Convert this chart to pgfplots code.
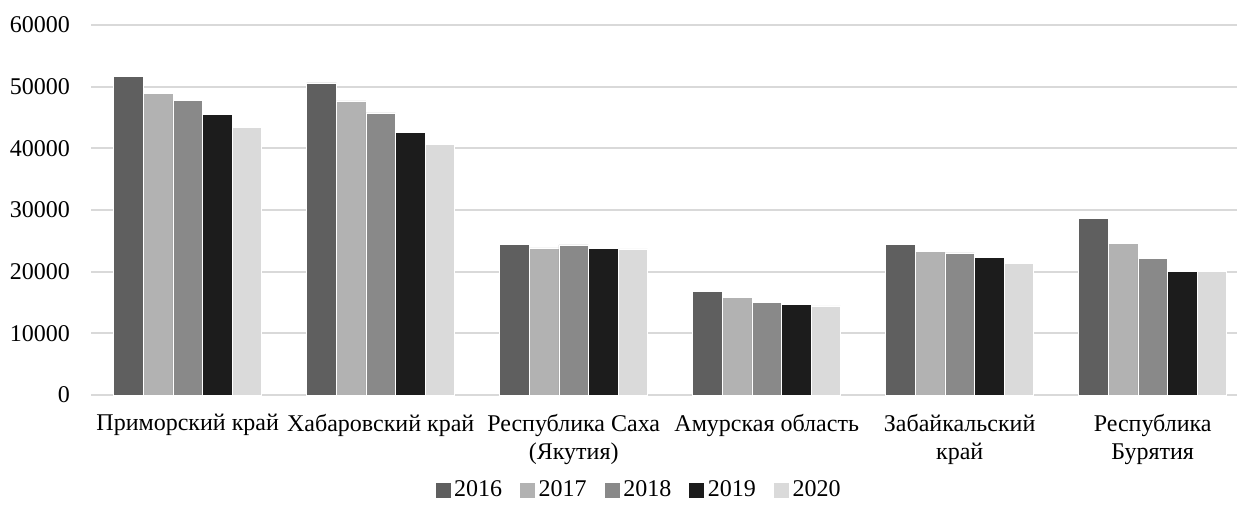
\documentclass[border=0pt]{standalone}
\usepackage{fontspec}
\setmainfont{Liberation Serif}
\usepackage{pgfplots}
\usepackage{pgfplotstable}
\pgfplotsset{compat=1.18}

\definecolor{c16}{HTML}{5F5F5F}
\definecolor{c17}{HTML}{B2B2B2}
\definecolor{c18}{HTML}{898989}
\definecolor{c19}{HTML}{1C1C1C}
\definecolor{c20}{HTML}{DADADA}
\definecolor{gridc}{HTML}{D9D9D9}

% values per region, years 2016-2020
\pgfplotstableread{
x  y16   y17   y18   y19   y20
0  51650 48950 47800 45450 43450
1  50600 47700 45750 42600 40600
2  24400 23850 24350 23750 23700
3  16750 15800 15050 14700 14450
4  24400 23350 23050 22300 21400
5  28670 24550 22150 20050 20000
}\datatable

\pgfplotsset{
  yr/.style={fill=#1, draw=white, line width=0.3pt,
    legend image code/.code={\fill[#1] (0pt,-3.5pt) rectangle (7pt,3.5pt);}},
}

\begin{document}
\begin{tikzpicture}
\useasboundingbox (-45.6pt,-58pt) rectangle (572.9pt,197.5pt);
\begin{axis}[
  at={(0,0)}, anchor=south west,
  scale only axis,
  width=572.9pt, height=185pt,
  ybar=0pt,
  bar width=0.1534,
  xmin=-0.5, xmax=5.437,
  ymin=0, ymax=60000,
  ytick={0,10000,...,60000},
  scaled y ticks=false,
  xtick={0,...,5},
  xticklabels={Приморский край, Хабаровский край, {Республика Саха\\(Якутия)}, Амурская область, {Забайкальский\\край}, {Республика\\Бурятия}},
  font={\fontsize{12}{14}\selectfont},
  /pgf/number format/assume math mode=true,
  /pgf/number format/1000 sep={},
  axis line style={draw=none},
  major tick length=0pt,
  ymajorgrids,
  major grid style={gridc, line width=1pt},
  xticklabel style={align=center, inner sep=0pt, yshift=-9.5pt, anchor=north},
  yticklabel style={inner sep=0pt, xshift=-10.5pt, anchor=east},
  legend columns=5,
  legend style={at={(0.479,-0.257)}, anchor=center, draw=none, fill=none,
    font={\fontsize{12}{14}\selectfont},
    /tikz/every even column/.append style={column sep=7pt}},
  legend cell align=left,
]
\addplot[yr=c16] table[x=x, y=y16] {\datatable};
\addplot[yr=c17] table[x=x, y=y17] {\datatable};
\addplot[yr=c18] table[x=x, y=y18] {\datatable};
\addplot[yr=c19] table[x=x, y=y19] {\datatable};
\addplot[yr=c20] table[x=x, y=y20] {\datatable};
\legend{2016,2017,2018,2019,2020}
\end{axis}
\end{tikzpicture}
\end{document}
